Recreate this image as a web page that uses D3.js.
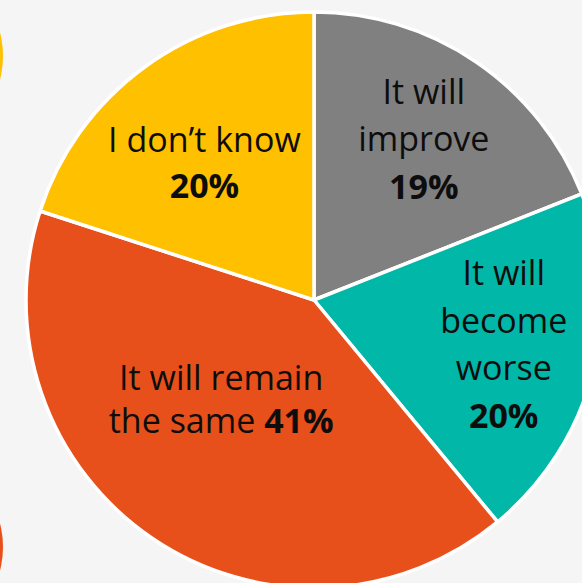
<!DOCTYPE html>
<html>
<head>
<meta charset="utf-8">
<script src="https://cdn.jsdelivr.net/npm/d3@7"></script>
<style>
  html, body { margin: 0; padding: 0; background: #f5f5f5; }
  svg { display: block; }
</style>
</head>
<body>
<svg id="chart" width="582" height="583"></svg>
<script>
// ---- data ----
const categories = ["It will improve", "It will become worse", "It will remain the same", "I don\u2019t know"];
const values = [19, 20, 41, 20];
const colors = ["#808080", "#00b7a8", "#e8501b", "#ffc000"];
// label text lines (last bold line holds the percentage)
const labelLines = [
  [["It will"], ["improve"], [null, "19%"]],
  [["It will"], ["become"], ["worse"], [null, "20%"]],
  [["It will remain"], ["the same ", "41%"]],
  [["I don\u2019t know"], [null, "20%"]]
];

// ---- layout ----
const W = 582, H = 583;
const cx = 314, cy = 300, R = 288;
const labelPolar = [ // radius, angle(deg, clockwise from top), line height
  {r: 185, a: 36.4, lh: 47.5},
  {r: 198, a: 106.6, lh: 47.7},
  {r: 145, a: 219.8, lh: 43},
  {r: 166, a: 318.7, lh: 46}
];
const fontFamily = "'Open Sans', 'Noto Sans', sans-serif";
const fontSize = 34;

const svg = d3.select("#chart");
svg.append("rect").attr("width", W).attr("height", H).attr("fill", "#f5f5f5");

// partial decorative circles at left edge
svg.append("circle").attr("cx", -90).attr("cy", 56).attr("r", 93).attr("fill", "#ffc000");
svg.append("circle").attr("cx", -90).attr("cy", 547).attr("r", 93).attr("fill", "#e8501b");

const pie = d3.pie().sort(null).value(d => d)(values);
const arc = d3.arc().innerRadius(0).outerRadius(R);

const g = svg.append("g").attr("transform", `translate(${cx},${cy})`);
g.selectAll("path.slice")
  .data(pie)
  .join("path")
  .attr("class", "slice")
  .attr("d", arc)
  .attr("fill", (d, i) => colors[i])
  .attr("stroke", "#ffffff")
  .attr("stroke-width", 3.5)
  .attr("stroke-linejoin", "round");

// labels
pie.forEach((d, i) => {
  const lp = labelPolar[i];
  const ang = lp.a * Math.PI / 180;
  const x = lp.r * Math.sin(ang);
  const y = -lp.r * Math.cos(ang);
  const lines = labelLines[i];
  const n = lines.length;
  const t = g.append("text")
    .attr("text-anchor", "middle")
    .attr("font-family", fontFamily)
    .attr("font-size", fontSize)
    .attr("fill", "#0d0d0d");
  lines.forEach((ln, j) => {
    const yy = y + (j - (n - 1) / 2) * lp.lh;
    const first = t.append("tspan").attr("x", x).attr("y", yy);
    if (ln[0] !== null) {
      first.text(ln[0]);
      if (ln[1]) t.append("tspan").attr("font-weight", "bold").text(ln[1]);
    } else {
      first.attr("font-weight", "bold").text(ln[1]);
    }
  });
});
</script>
</body>
</html>
